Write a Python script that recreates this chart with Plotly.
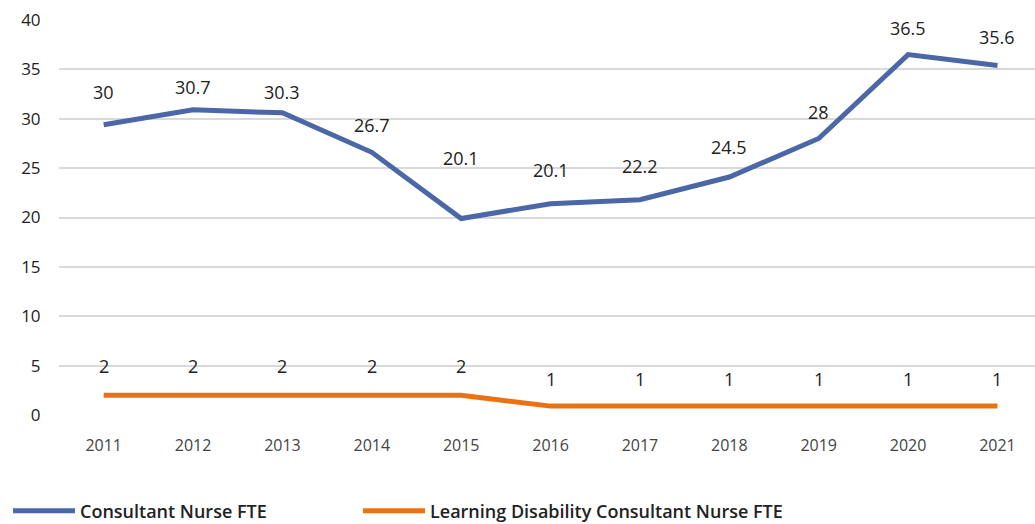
import plotly.graph_objects as go

years = [2011, 2012, 2013, 2014, 2015, 2016, 2017, 2018, 2019, 2020, 2021]
# line positions
consultant_fte = [29.4, 30.9, 30.6, 26.6, 19.9, 21.4, 21.8, 24.1, 28.0, 36.5, 35.4]
ld_fte = [2, 2, 2, 2, 2, 0.9, 0.9, 0.9, 0.9, 0.9, 0.9]
# data labels as printed on the chart
consultant_labels = ["30", "30.7", "30.3", "26.7", "20.1", "20.1", "22.2", "24.5", "28", "36.5", "35.6"]
ld_labels = ["2", "2", "2", "2", "2", "1", "1", "1", "1", "1", "1"]
y_ticks = [0, 5, 10, 15, 20, 25, 30, 35, 40]

# label vertical offsets (px) – styling only
consultant_shift = [33, 23, 21, 27, 60, 34, 34, 30, 27, 27, 28]
ld_shift = [29] * 5 + [27] * 6

BLUE = "#4B67A8"
ORANGE = "#EC7211"
FONT = "Open Sans"

fig = go.Figure()
fig.add_trace(go.Scatter(x=years, y=consultant_fte, mode="lines", name="Consultant Nurse FTE",
                         line=dict(color=BLUE, width=5), legend="legend"))
fig.add_trace(go.Scatter(x=years, y=ld_fte, mode="lines", name="Learning Disability Consultant Nurse FTE",
                         line=dict(color=ORANGE, width=5), legend="legend2"))

for x, y, t, s in zip(years, consultant_fte, consultant_labels, consultant_shift):
    fig.add_annotation(x=x, y=y, text=t, showarrow=False, yshift=s,
                       font=dict(family=FONT, size=18, color="#222222"))
for x, y, t, s in zip(years, ld_fte, ld_labels, ld_shift):
    fig.add_annotation(x=x, y=y, text=t, showarrow=False, yshift=s,
                       font=dict(family=FONT, size=18, color="#222222"))

legend_style = dict(orientation="h", xref="container", y=0.06, yref="container",
                    xanchor="left", yanchor="top",
                    font=dict(family=FONT, size=18, color="#222222", weight=600),
                    itemwidth=62, bgcolor="rgba(0,0,0,0)")

fig.update_layout(
    width=1035, height=524,
    margin=dict(l=59, r=0, t=20, b=109, autoexpand=False),
    paper_bgcolor="white", plot_bgcolor="white",
    font=dict(family=FONT, color="#222222"),
    showlegend=True,
    legend=dict(x=8 / 1035, **legend_style),
    legend2=dict(x=358 / 1035, **legend_style),
    xaxis=dict(range=[2010.5, 2021.42], tickvals=years, ticktext=[str(y) for y in years],
               showgrid=False, zeroline=False, showline=False, automargin=False,
               ticks="outside", ticklen=16, tickcolor="white",
               tickfont=dict(family=FONT, size=16, color="#444444")),
    yaxis=dict(range=[0, 40], tickvals=y_ticks, showgrid=True, gridcolor="#D9D9D9", gridwidth=1.5,
               zeroline=False, showline=False, automargin=False,
               ticks="outside", ticklen=14, tickcolor="white",
               tickfont=dict(family=FONT, size=17, color="#222222")),
)

fig.write_html("out.html", config={"displayModeBar": False},
               post_script="document.body.style.margin='0';document.body.style.overflow='hidden';")
